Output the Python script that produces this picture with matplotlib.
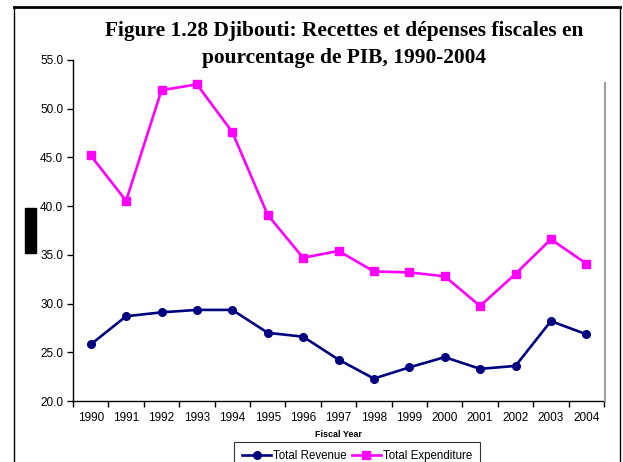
import matplotlib
matplotlib.use("Agg")
import matplotlib.pyplot as plt
from matplotlib.patches import Rectangle
from matplotlib.lines import Line2D

years = [str(y) for y in range(1990, 2005)]
revenue = [25.8, 28.7, 29.1, 29.35, 29.35, 27.0, 26.6, 24.25, 22.3, 23.45,
           24.5, 23.3, 23.6, 28.2, 26.85]
expenditure = [45.2, 40.55, 51.9, 52.5, 47.6, 39.1, 34.7, 35.4, 33.3, 33.2,
               32.8, 29.75, 33.05, 36.6, 34.1]
yticks = [20, 25, 30, 35, 40, 45, 50, 55]

plt.rcParams['font.family'] = ['Liberation Sans', 'DejaVu Sans']

W, H = 623, 462
fig = plt.figure(figsize=(W / 100, H / 100), dpi=100)
ax = fig.add_axes([73 / W, 1 - 401 / H, (604 - 73) / W, (401 - 60) / H])

x = list(range(len(years)))
ax.plot(x, revenue, color='#000080', lw=1.9, marker='o', ms=5.5, label='Total Revenue')
ax.plot(x, expenditure, color='#FF00FF', lw=1.9, marker='s', ms=5.5, label='Total Expenditure')

ax.set_xlim(-0.5, len(years) - 0.5)
ax.set_ylim(20, 55)
ax.set_yticks(yticks)
ax.set_yticklabels([f"{v:.1f}" for v in yticks], fontsize=8.5)
ax.set_xticks([i - 0.5 for i in range(len(years) + 1)])
ax.set_xticklabels([])
ax.set_xticks(x, minor=True)
ax.set_xticklabels(years, minor=True, fontsize=8.5)
ax.tick_params(axis='x', which='minor', length=0, pad=8)
ax.tick_params(axis='both', which='major', length=4, width=1, direction='out')
ax.tick_params(axis='y', pad=3)
for s in ['top', 'right']:
    ax.spines[s].set_visible(False)
for s in ['left', 'bottom']:
    ax.spines[s].set_linewidth(1)
ax.set_xlabel('Fiscal Year', fontsize=6.5, fontweight='bold', labelpad=4)

# grey right edge of plot area
fig.add_artist(Line2D([605 / W, 605 / W], [1 - 83 / H, 1 - 401 / H],
                      color='#a0a0a0', lw=1.5))

# outer frame
fig.add_artist(Line2D([14 / W, 620 / W], [1 - 7 / H, 1 - 7 / H], color='black', lw=2))
fig.add_artist(Line2D([14 / W, 14 / W], [1 - 7 / H, 0], color='black', lw=1))
fig.add_artist(Line2D([620 / W, 620 / W], [1 - 7 / H, 0], color='black', lw=1))

# black box where the y label sits
fig.add_artist(Rectangle((25 / W, 1 - 253 / H), 11 / W, 45 / H,
                         color='black', transform=fig.transFigure))

title_font = ['Liberation Serif', 'DejaVu Serif']
fig.text(344 / W, 1 - 31 / H, 'Figure 1.28 Djibouti: Recettes et dépenses fiscales en',
         ha='center', va='center', fontsize=15.4, fontweight='bold', family=title_font)
fig.text(344 / W, 1 - 58 / H, 'pourcentage de PIB, 1990-2004',
         ha='center', va='center', fontsize=15.4, fontweight='bold', family=title_font)

leg = fig.legend(loc='upper center', bbox_to_anchor=(357 / W, 1 - 442 / H), ncol=2,
                 fontsize=8.3, frameon=True, fancybox=False, borderpad=0.7,
                 handlelength=2.5, handletextpad=0.15, columnspacing=0.5,
                 borderaxespad=0)
leg.get_frame().set_edgecolor('black')
leg.get_frame().set_linewidth(0.8)

fig.savefig('out.png', dpi=100)
